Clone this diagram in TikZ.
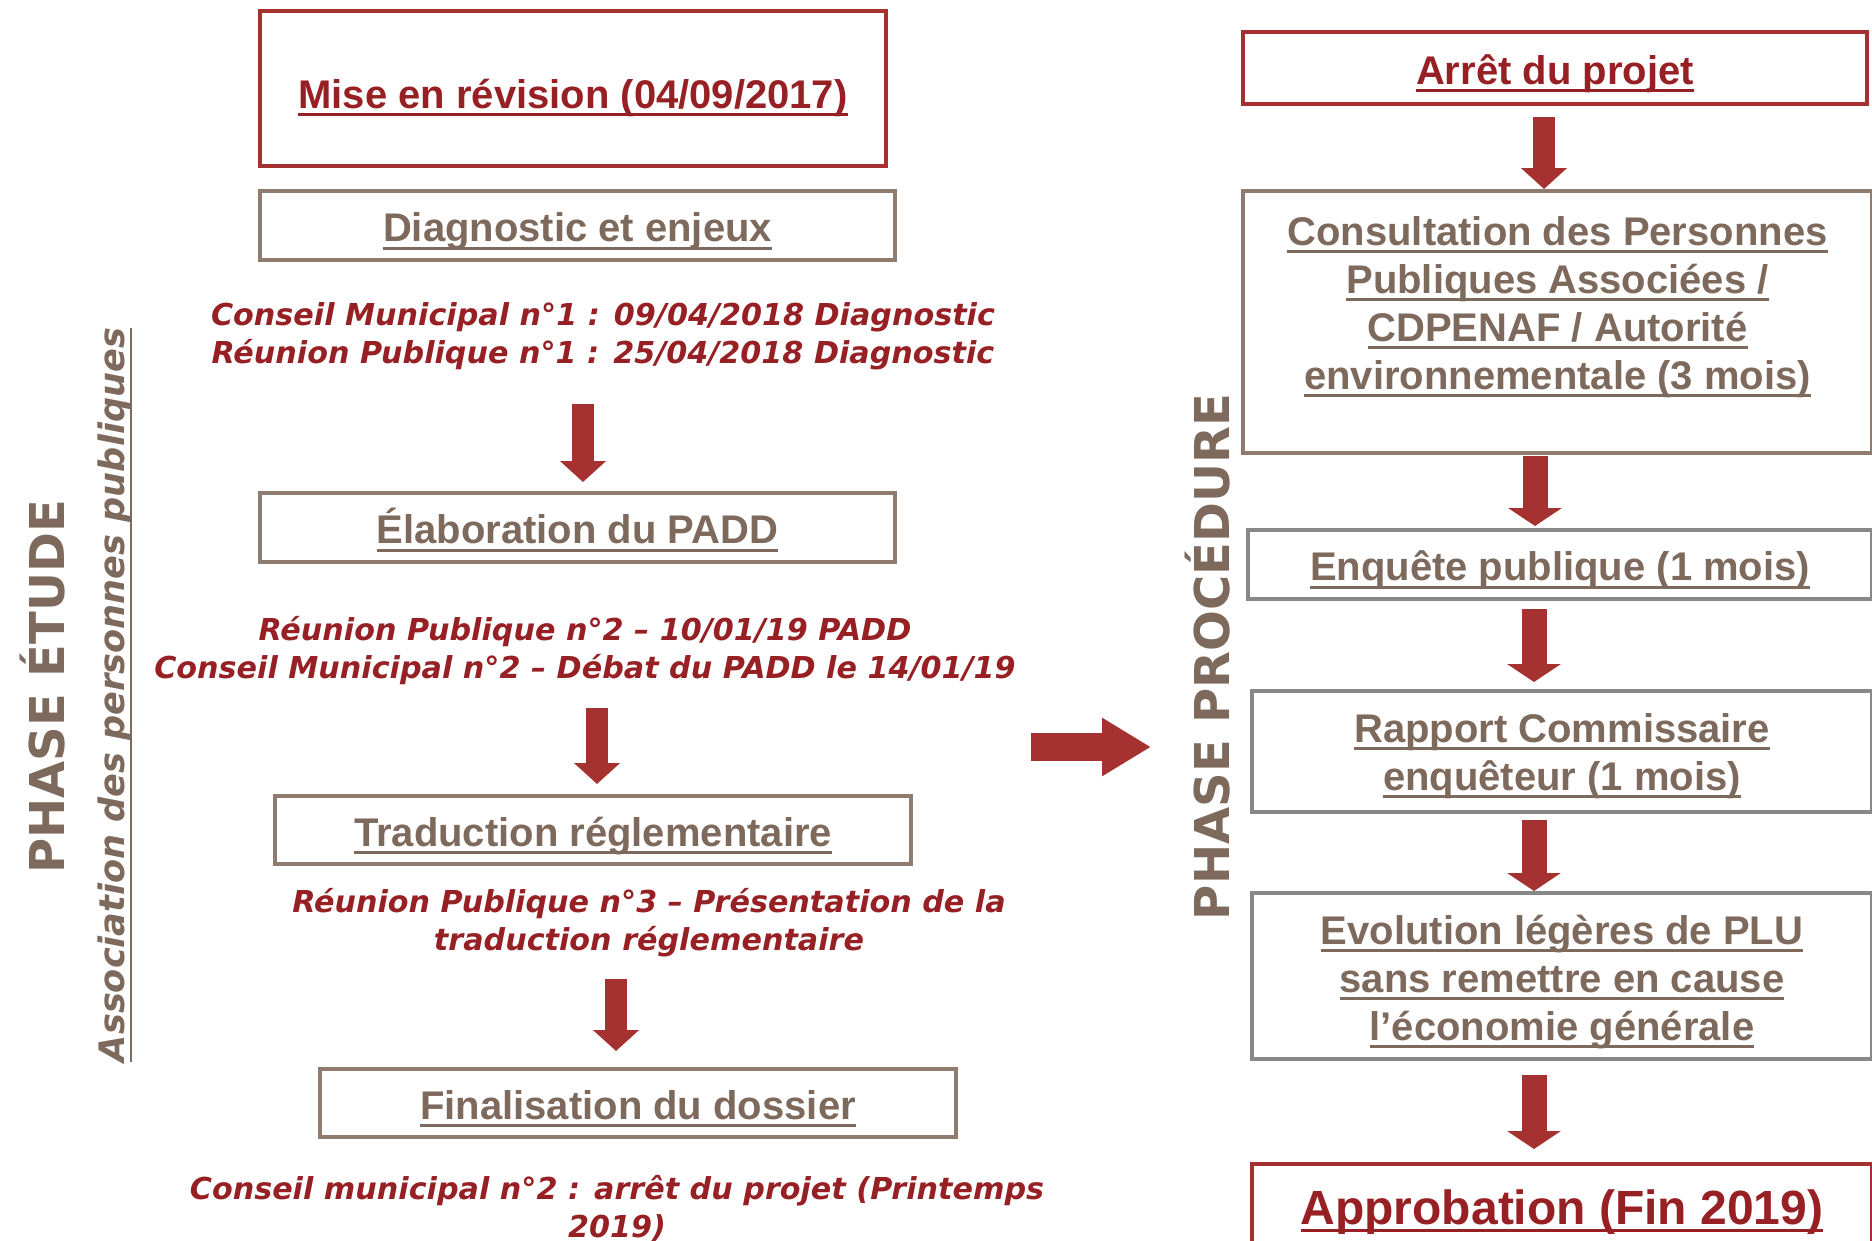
\documentclass[tikz,border=0pt]{standalone}
\usepackage{fontspec}
\usepackage{tikz}
\usetikzlibrary{arrows.meta}
\setmainfont{Liberation Sans}
\newfontfamily\verdfont{DejaVu Sans}[ItalicFont={DejaVu Sans Oblique},BoldItalicFont={DejaVu Sans Bold Oblique}]
\definecolor{plured}{RGB}{165,50,48}
\definecolor{plutext}{RGB}{150,32,36}
\definecolor{plubrown}{RGB}{143,124,110}
\definecolor{plubrowntext}{RGB}{125,106,92}
\definecolor{plugrey}{RGB}{136,136,136}
\newsavebox\plulbox
\newcommand{\plul}[1]{\sbox\plulbox{#1}\rlap{\rule[-8pt]{\wd\plulbox}{2.8pt}}\usebox\plulbox}
\tikzset{
	redbox/.style={draw=plured, line width=4pt, text=plutext, font=\bfseries\fontsize{40}{48}\selectfont, align=center, inner sep=0pt, text height=40pt, text depth=8pt},
	brownbox/.style={redbox, draw=plubrown, text=plubrowntext},
	greybox/.style={redbox, draw=plugrey, text=plubrowntext},
	meeting/.style={text=plutext, font=\verdfont\bfseries\itshape\fontsize{30.2}{38}\selectfont, align=center, inner sep=0pt},
	phase/.style={text=plubrowntext, font=\verdfont\bfseries\fontsize{48}{48}\selectfont, rotate=90, inner sep=0pt},
	fatarrow/.style={draw=plured, line width=22pt, -{Triangle[width=45pt,length=21pt]}},
	widearrow/.style={draw=plured, line width=25pt, -{Triangle[width=53pt,length=18pt]}},
}

\begin{document}
\begin{tikzpicture}[x=1pt,y=-1pt]
	\useasboundingbox (0,0) rectangle (1872,1240);
	\clip (0,0) rectangle (1872,1240);

	\node[phase] (etude) at (43,687) {PHASE ÉTUDE};
	\node[phase, font=\verdfont\bfseries\itshape\fontsize{35.1}{36}\selectfont] (assoc) at (115,695) {\plul{Association des personnes publiques}};

	\node[redbox, minimum width=626pt, minimum height=155pt, text height=44pt, text depth=4pt] (revision) at (573,88) {\plul{Mise en révision (04/09/2017)}};
	\node[brownbox, minimum width=635pt, minimum height=69pt] (diag) at (577.5,225.5) {\plul{Diagnostic et enjeux}};
	\node[meeting] (cm1) at (603,336) {Conseil Municipal n°1 : 09/04/2018 Diagnostic\\Réunion Publique n°1 : 25/04/2018 Diagnostic};
	\node[brownbox, minimum width=635pt, minimum height=69pt] (padd) at (577.5,527.5) {\plul{Élaboration du PADD}};
	\node[meeting] (cm2) at (585,651) {Réunion Publique n°2 – 10/01/19 PADD\\Conseil Municipal n°2 – Débat du PADD le 14/01/19};
	\node[brownbox, minimum width=636pt, minimum height=68pt] (trad) at (593,830) {\plul{Traduction réglementaire}};
	\node[meeting] (rp3) at (649,923) {Réunion Publique n°3 – Présentation de la\\traduction réglementaire};
	\node[brownbox, minimum width=636pt, minimum height=68pt] (final) at (638,1103) {\plul{Finalisation du dossier}};
	\node[meeting] (cm4) at (617,1208) {Conseil municipal n°2 : arrêt du projet (Printemps\\2019)};

	\draw[fatarrow, shorten <=142pt, shorten >=9pt] ([xshift=5.5pt]diag.south) -- ([xshift=5.5pt]padd.north);
	\draw[fatarrow, shorten <=144pt, shorten >=10pt] ([xshift=19.5pt]padd.south) -- ([xshift=4pt]trad.north);
	\draw[fatarrow, shorten <=113pt, shorten >=16pt] ([xshift=23pt]trad.south) -- ([xshift=-22pt]final.north);

	\coordinate (midtail) at (1031,747);
	\coordinate (midtip) at (1151,747);
	\draw[fatarrow, line width=28pt, -{Triangle[width=55pt,length=49pt]}] (midtail) -- (midtip);

	\node[phase] (proc) at (1208,657) {PHASE PROCÉDURE};

	\node[redbox, minimum width=624pt, minimum height=72pt] (arret) at (1555,68) {\plul{Arrêt du projet}};
	\node[brownbox, minimum width=629pt, minimum height=262pt, text height=184pt, text depth=50pt] (consult) at (1557.5,322) {\plul{Consultation des Personnes}\\\plul{Publiques Associées /}\\\plul{CDPENAF / Autorité}\\\plul{environnementale (3 mois)}};
	\node[greybox, minimum width=624pt, minimum height=69pt] (enquete) at (1560,564.5) {\plul{Enquête publique (1 mois)}};
	\node[greybox, minimum width=620pt, minimum height=121pt, text height=88pt, text depth=11pt] (rapport) at (1562,751.5) {\plul{Rapport Commissaire}\\\plul{enquêteur (1 mois)}};
	\node[greybox, minimum width=620pt, minimum height=166pt, text height=136pt, text depth=8pt] (evol) at (1562,976) {\plul{Evolution légères de PLU}\\\plul{sans remettre en cause}\\\plul{l’économie générale}};
	\node[redbox, minimum width=620pt, minimum height=86pt, font=\bfseries\fontsize{48}{56}\selectfont, text height=44pt, text depth=10pt] (approb) at (1562,1207) {\plul{Approbation (Fin 2019)}};

	\draw[fatarrow, shorten <=11pt] ([xshift=-11pt]arret.south) -- ([xshift=-13.5pt]consult.north);
	\draw[widearrow, shorten <=1pt, shorten >=2pt] ([xshift=-22.5pt]consult.south) -- ([xshift=-25pt]enquete.north);
	\draw[widearrow, shorten <=8pt, shorten >=7pt] ([xshift=-26pt]enquete.south) -- ([xshift=-28pt]rapport.north);
	\draw[widearrow, shorten <=6pt] ([xshift=-28pt]rapport.south) -- ([xshift=-28pt]evol.north);
	\draw[widearrow, shorten <=14pt, shorten >=13pt] ([xshift=-28pt]evol.south) -- ([xshift=-28pt]approb.north);
\end{tikzpicture}
\end{document}
